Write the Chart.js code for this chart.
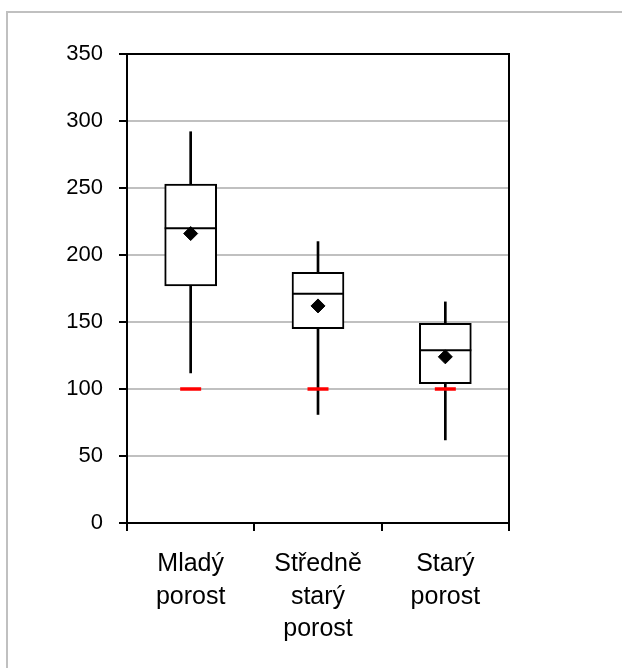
<!DOCTYPE html>
<html lang="cs">
<head>
<meta charset="utf-8">
<style>
    body { margin: 0; background: #fff; }
    #wrap { position: relative; width: 622px; height: 668px; overflow: hidden; }
    #frame { position: absolute; left: 6px; top: 11px; width: 700px; height: 700px;
             border-left: 2px solid #c0c0c0; border-top: 2px solid #c0c0c0; }
    #chart { position: absolute; left: 0; top: 0; }
</style>
</head>
<body>
<div id="wrap">
    <div id="frame"></div>
    <canvas id="chart" width="622" height="668"></canvas>
</div>
<script src="https://cdn.jsdelivr.net/npm/chart.js"></script>
<script>
    // kategorie a hodnoty
    const categories = [['Mladý', 'porost'], ['Středně', 'starý', 'porost'], ['Starý', 'porost']];
    const whiskerLow = [112, 81, 62];
    const q1 = [177, 145, 104];
    const median = [220, 171, 129];
    const q3 = [253, 187, 149];
    const whiskerHigh = [292, 210, 165];
    const means = [216, 162, 124];
    const limit = [100, 100, 100];
    const yMin = 0, yMax = 350, yStep = 50;

    const range = (a, b) => a.map((v, i) => [v, b[i]]);

    // rámeček kolem plochy grafu
    const plotFrame = {
        id: 'plotFrame',
        beforeDatasetsDraw(chart) {
            const a = chart.chartArea;
            const ctx = chart.ctx;
            ctx.save();
            ctx.strokeStyle = '#000';
            ctx.lineWidth = 2;
            ctx.strokeRect(a.left, a.top, a.right - a.left, a.bottom - a.top);
            ctx.restore();
        }
    };

    new Chart(document.getElementById('chart'), {
        type: 'bar',
        data: {
            labels: categories,
            datasets: [
                {   // horní vousy
                    data: range(q3, whiskerHigh),
                    backgroundColor: '#000', borderWidth: 0,
                    barThickness: 2, grouped: false, order: 5
                },
                {   // dolní vousy
                    data: range(whiskerLow, q1),
                    backgroundColor: '#000', borderWidth: 0,
                    barThickness: 2, grouped: false, order: 5
                },
                {   // krabice
                    data: range(q1, q3),
                    backgroundColor: '#fff', borderColor: '#000', borderWidth: 2,
                    borderSkipped: false, barThickness: 52, grouped: false, order: 4
                },
                {   // medián
                    type: 'line', data: median, showLine: false,
                    pointStyle: 'line', pointRadius: 26, borderColor: '#000',
                    borderWidth: 2, order: 3
                },
                {   // průměr
                    type: 'line', data: means, showLine: false,
                    pointStyle: 'rectRot', pointRadius: 7, backgroundColor: '#000',
                    borderColor: '#000', borderWidth: 1, order: 2
                },
                {   // limit 100
                    type: 'line', data: limit, showLine: false,
                    pointStyle: 'line', pointRadius: 10.5, borderColor: '#ff0000',
                    borderWidth: 3.5, order: 1
                }
            ]
        },
        options: {
            responsive: false,
            animation: false,
            layout: { padding: { left: 0, right: 113, top: 54, bottom: 0 } },
            plugins: { legend: { display: false }, tooltip: { enabled: false } },
            scales: {
                x: {
                    afterFit(scale) { scale.height = 145; },
                    grid: { drawOnChartArea: false, tickLength: 8, tickColor: '#000', lineWidth: 2 },
                    border: { color: '#000', width: 2 },
                    ticks: {
                        color: '#000', padding: 17, maxRotation: 0,
                        font: { family: 'Liberation Sans, Arial', size: 25, lineHeight: 1.3 }
                    }
                },
                y: {
                    min: yMin, max: yMax,
                    afterFit(scale) { scale.width = 127; },
                    grid: { color: '#c0c0c0', lineWidth: 2, tickLength: 8, tickColor: '#000' },
                    border: { color: '#000', width: 2 },
                    ticks: {
                        stepSize: yStep, color: '#000', padding: 16,
                        font: { family: 'Liberation Sans, Arial', size: 22 }
                    }
                }
            }
        },
        plugins: [plotFrame]
    });
</script>
</body>
</html>
